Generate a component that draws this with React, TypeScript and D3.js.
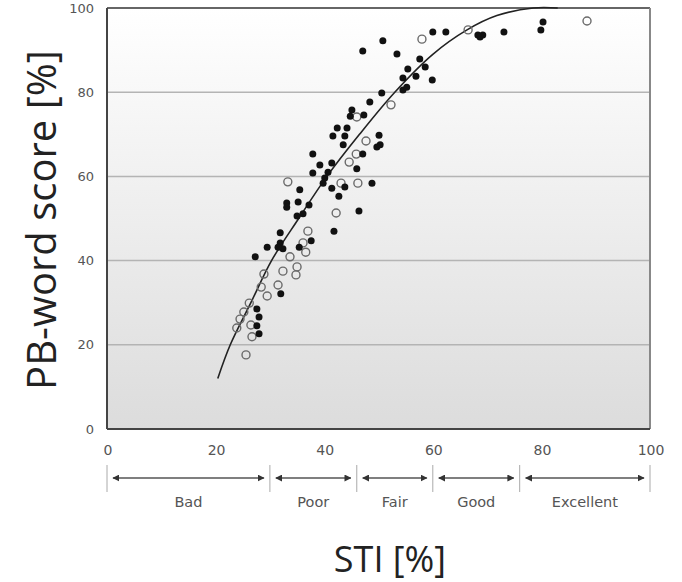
import React from 'react';
import * as d3 from 'd3';

// STI [%] vs PB-word score [%], filled = one group, open = other group
const filledSTI = [27.3, 27.6, 28.0, 27.6, 28.0, 32.0, 29.5, 31.9, 32.4, 31.5, 31.9, 33.1, 33.1, 35.2, 37.2, 35.0, 36.1, 35.4, 37.6, 41.8, 46.4, 35.5,
  37.9, 39.2, 41.4, 37.9, 40.7, 40.1, 39.8, 47.1, 46.0, 48.8, 41.4, 43.8, 42.7, 41.6, 43.8, 43.5, 42.4, 44.2, 50.1, 50.3, 49.7,
  45.1, 44.8, 47.3, 48.4, 50.6, 54.5, 55.2, 55.4, 54.5, 56.9, 58.6, 59.9, 57.6, 53.4, 50.8, 47.1, 60.0, 62.4, 68.3, 69.2, 68.7, 73.1, 79.9, 80.3];
const filledScore = [40.9, 28.5, 26.6, 24.5, 22.6, 32.1, 43.2, 44.2, 42.8, 43.2, 46.6, 53.7, 52.7, 53.9, 53.2, 50.6, 51.1, 43.2, 44.7, 47.0, 51.8, 56.8,
  65.3, 62.7, 63.2, 60.8, 61.0, 59.6, 58.4, 65.3, 61.8, 58.4, 57.2, 57.5, 55.3, 69.6, 69.6, 67.5, 71.5, 71.5, 69.8, 67.5, 67.0,
  75.8, 74.3, 74.6, 77.7, 79.8, 80.5, 81.2, 85.5, 83.4, 83.8, 86.0, 82.9, 87.9, 89.1, 92.2, 89.8, 94.3, 94.3, 93.6, 93.6, 93.1, 94.3, 94.8, 96.7];

const openSTI = [25.6, 23.9, 24.5, 25.2, 26.2, 26.5, 26.7, 28.4, 28.9, 29.5, 31.5, 32.4, 33.7, 35.0, 34.8, 37.0, 36.1, 36.6,
  42.2, 33.3, 43.1, 46.2, 44.6, 45.9, 47.7, 46.0, 52.3, 58.0, 66.5, 88.4];
const openScore = [17.6, 24.0, 26.1, 27.8, 29.9, 24.7, 21.9, 33.7, 36.8, 31.6, 34.2, 37.5, 40.9, 38.5, 36.6, 47.0, 44.2, 42.0,
  51.3, 58.7, 58.4, 58.4, 63.4, 65.3, 68.4, 74.1, 77.0, 92.6, 94.8, 96.9];

// fitted curve
const fitSTI = [20.4, 22.7, 26.5, 30.3, 35.3, 40.5, 46.5, 53.0, 60.0, 66.3, 71.8, 78.5, 83.0];
const fitScore = [12, 20, 30, 40, 50, 60, 70, 80, 89, 94.8, 98.2, 100, 100];

const xTicks = [0, 20, 40, 60, 80, 100];
const yTicks = [0, 20, 40, 60, 80, 100];
const categoryEdges = [0, 30, 46, 60, 76, 100];
const categoryNames = ['Bad', 'Poor', 'Fair', 'Good', 'Excellent'];

const W = 682;
const H = 582;

export default function App() {
  const x = d3.scaleLinear().domain([0, 100]).range([107, 650]);
  const y = d3.scaleLinear().domain([0, 100]).range([429, 8]);

  const line = d3.line<[number, number]>()
    .x(d => x(d[0]))
    .y(d => y(d[1]))
    .curve(d3.curveCatmullRom.alpha(0.5));
  const fitPath = line(fitSTI.map((v, i) => [v, fitScore[i]] as [number, number])) || '';

  const tickFont = '"DejaVu Sans", Verdana, sans-serif';
  const titleFont = '"Open Sans", sans-serif';
  const arrowY = 478;

  return (
    <svg width={W} height={H} style={{ position: 'absolute', left: 0, top: 0, background: '#fff' }}>
      <defs>
        <linearGradient id="bg" x1="0" y1="0" x2="0" y2="1">
          <stop offset="0" stopColor="#ffffff" />
          <stop offset="1" stopColor="#dcdcdc" />
        </linearGradient>
        <marker id="ah" viewBox="0 0 10 10" refX="9" refY="5" markerWidth="5" markerHeight="5" orient="auto-start-reverse">
          <path d="M0,0 L10,5 L0,10 z" fill="#333" />
        </marker>
      </defs>

      {/* plot background */}
      <rect x={x(0)} y={y(100)} width={x(100) - x(0)} height={y(0) - y(100)} fill="url(#bg)" />

      {/* gridlines */}
      {yTicks.filter(t => t > 0 && t < 100).map(t => (
        <line key={t} x1={x(0)} x2={x(100)} y1={y(t)} y2={y(t)} stroke="#b4b4b4" strokeWidth={1.5} />
      ))}

      {/* frame */}
      <line x1={x(0)} x2={x(100)} y1={y(100)} y2={y(100)} stroke="#666" strokeWidth={2} />
      <line x1={x(100)} x2={x(100)} y1={y(100)} y2={y(0)} stroke="#888" strokeWidth={2} />
      <line x1={x(0)} x2={x(0)} y1={y(100)} y2={y(0)} stroke="#444" strokeWidth={2} />
      <line x1={x(0)} x2={x(100)} y1={y(0)} y2={y(0)} stroke="#444" strokeWidth={2} />

      {/* fitted curve */}
      <path d={fitPath} fill="none" stroke="#222" strokeWidth={1.6} />

      {/* open points */}
      {openSTI.map((v, i) => (
        <circle key={'o' + i} cx={x(v)} cy={y(openScore[i])} r={4} fill="none" stroke="#6a6a6a" strokeWidth={1.4} />
      ))}

      {/* filled points */}
      {filledSTI.map((v, i) => (
        <circle key={'f' + i} cx={x(v)} cy={y(filledScore[i])} r={3.5} fill="#111" />
      ))}

      {/* y ticks */}
      {yTicks.map(t => (
        <text key={t} x={94} y={y(t)} dy="0.35em" textAnchor="end" fontFamily={tickFont} fontSize={13} fill="#555">{t}</text>
      ))}

      {/* x ticks */}
      {xTicks.map(t => (
        <text key={t} x={x(t) + 1} y={450} dy="0.35em" textAnchor="middle" fontFamily={tickFont} fontSize={14} fill="#555">{t}</text>
      ))}

      {/* STI categories */}
      {categoryEdges.map(e => (
        <line key={'s' + e} x1={x(e)} x2={x(e)} y1={465} y2={492} stroke="#aaa" strokeWidth={1} />
      ))}
      {categoryNames.map((name, i) => {
        const a = x(categoryEdges[i]);
        const b = x(categoryEdges[i + 1]);
        return (
          <g key={name}>
            <line x1={a + 6} x2={b - 6} y1={arrowY} y2={arrowY} stroke="#555" strokeWidth={1.4}
              markerStart="url(#ah)" markerEnd="url(#ah)" />
            <text x={(a + b) / 2} y={502} dy="0.35em" textAnchor="middle" fontFamily={tickFont} fontSize={14.5} fill="#555">{name}</text>
          </g>
        );
      })}

      {/* axis titles */}
      <text x={390} y={572} textAnchor="middle" fontFamily={titleFont} fontSize={36} fill="#222">STI [%]</text>
      <text transform="translate(56,220) rotate(-90)" textAnchor="middle" fontFamily={titleFont} fontSize={40} fill="#222">PB-word score [%]</text>
    </svg>
  );
}
